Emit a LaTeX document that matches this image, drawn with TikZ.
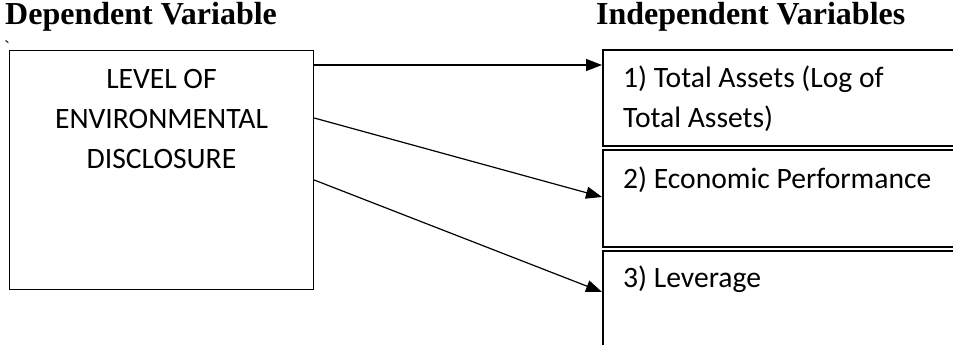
\documentclass[tikz,border=0pt]{standalone}
\usepackage{fontspec}
\setmainfont{Liberation Serif}
\newfontfamily\calib{Carlito}
\usetikzlibrary{arrows.meta}
\begin{document}
\begin{tikzpicture}[x=1pt,y=-1pt,
  lbox/.style={draw, line width=1.2pt, inner sep=0pt, anchor=north west},
  rbox/.style={draw, line width=1.6pt, inner sep=0pt, anchor=north west, minimum width=420pt},
  head/.style={font=\fontsize{32}{38}\selectfont\bfseries, anchor=base west, inner sep=0pt},
  lbl/.style={font=\calib\fontsize{29.6}{34}\selectfont, inner sep=0pt},
  arr/.style={line width=1.2pt, -{Triangle[length=16pt,width=12pt]}}]
\clip (0,0) rectangle (953,345);
\fill[white] (0,0) rectangle (953,345);
% headings
\node[head] (hd) at (5,25) {Dependent Variable};
\node[head] (hi) at (596,25) {Independent Variables};
\node[font=\fontsize{18}{18}\selectfont, anchor=base west, inner sep=0pt] (bt) at (4,54) {\textasciigrave};
% boxes
\node[lbox, minimum width=304pt, minimum height=239pt] (L) at (9,50) {};
\node[rbox, minimum height=96pt] (A) at (602,49) {};
\node[rbox, minimum height=97pt] (B) at (602,149) {};
\node[rbox, minimum height=115pt] (C) at (602,250) {};
% texts
\node[lbl, anchor=base] (l1) at (161.5,88.5) {LEVEL OF};
\node[lbl, anchor=base] (l2) at (161.5,128.5) {ENVIRONMENTAL};
\node[lbl, anchor=base] (l3) at (161.5,168.5) {DISCLOSURE};
\node[lbl, anchor=base west] (a1) at (623,88) {1) Total Assets (Log of};
\node[lbl, anchor=base west] (a2) at (623,127.5) {Total Assets)};
\node[lbl, anchor=base west] (b1) at (623,188) {2) Economic Performance};
\node[lbl, anchor=base west] (c1) at (623,287) {3) Leverage};
% arrows
\draw[arr] (L.east |- 0,65) -- (A.west |- 0,65);
\draw[arr] (L.east |- 0,118) -- (B.west |- 0,197);
\draw[arr] (L.east |- 0,180) -- (C.west |- 0,292);
\end{tikzpicture}
\end{document}
